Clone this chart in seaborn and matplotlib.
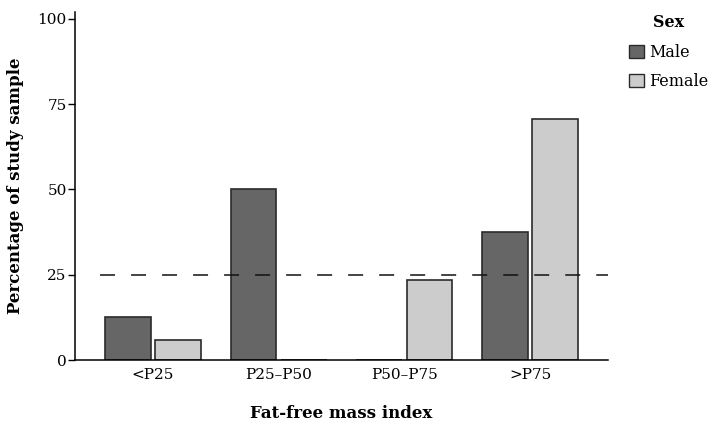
import matplotlib
matplotlib.use("Agg")
import matplotlib.pyplot as plt
import seaborn as sns
import pandas as pd
from matplotlib.patches import Patch

categories = ["<P25", "P25\u2013P50", "P50\u2013P75", ">P75"]
male = [12.5, 50.0, 0.0, 37.5]
female = [5.9, 0.0, 23.5, 70.6]
sexes = ["Male", "Female"]
colors = {"Male": "#666666", "Female": "#cccccc"}
reference_line = 25
yticks = [0, 25, 50, 75, 100]

df = pd.DataFrame({
    "category": categories * 2,
    "sex": ["Male"] * 4 + ["Female"] * 4,
    "value": male + female,
})

sns.set_theme(style="white")
plt.rcParams["font.family"] = ["DejaVu Serif"]
plt.rcParams["text.color"] = "black"
plt.rcParams["axes.labelcolor"] = "black"
plt.rcParams["xtick.color"] = "black"
plt.rcParams["ytick.color"] = "black"

fig = plt.figure(figsize=(7.15, 4.24), dpi=100)
ax = fig.add_axes([75 / 715, 1 - 360 / 424, (608 - 75) / 715, (360 - 12) / 424])

sns.barplot(data=df, x="category", y="value", hue="sex", order=categories,
            hue_order=sexes, palette=colors, ax=ax, width=0.8, gap=0.09,
            edgecolor="#2a2a2a", linewidth=1.2, legend=False)

ax.axhline(reference_line, xmin=9 / 533, color="#111111",
           linestyle=(9.8, (9.8, 10.5)), linewidth=1.1, zorder=5)

ax.set_xlim(-0.62, 3.62)
ax.set_ylim(0, 102)
ax.set_yticks(yticks)
ax.set_yticklabels([str(t) for t in yticks], fontsize=11)
ax.tick_params(axis="y", length=5, width=1, color="black", left=True, pad=1)
ax.tick_params(axis="x", length=0, labelsize=11, pad=6)
sns.despine(ax=ax)
for s in ["left", "bottom"]:
    ax.spines[s].set_color("black")
    ax.spines[s].set_linewidth(1.1)

ax.set_xlabel("Fat-free mass index", fontsize=12, fontweight="bold", labelpad=16)
ax.set_ylabel("Percentage of study sample", fontsize=12, fontweight="bold", labelpad=10)

handles = [Patch(facecolor=colors[s], edgecolor="#2a2a2a", linewidth=1) for s in sexes]
leg = fig.legend(handles, sexes, title="Sex", loc="upper left",
                 bbox_to_anchor=(618 / 715, 1 - 3 / 424), frameon=False,
                 fontsize=11.5, title_fontproperties={"weight": "bold", "size": 11.5},
                 handlelength=0.9, handleheight=0.9, handletextpad=0.35,
                 labelspacing=0.75, alignment="center", borderpad=0.2)
leg._legend_box.sep = 9

fig.savefig("out.png", dpi=100)
